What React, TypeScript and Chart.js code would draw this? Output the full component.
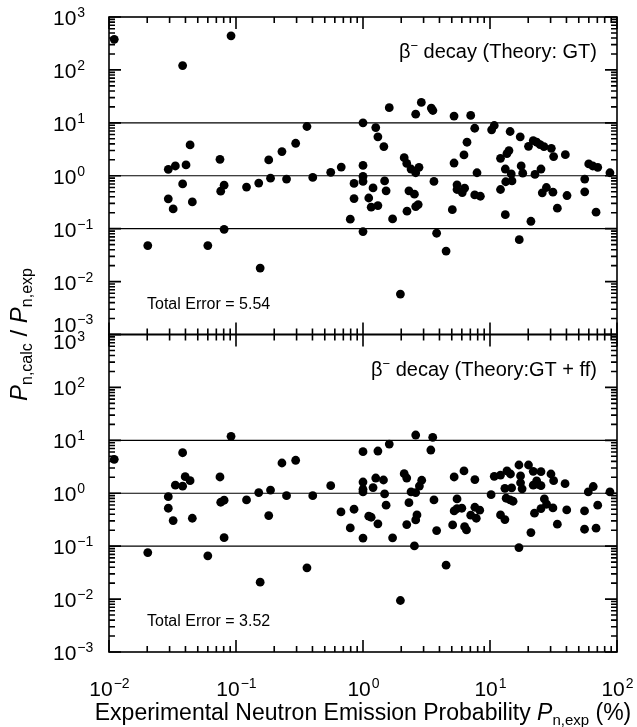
import React, { useEffect, useRef } from "react";
import { Chart, registerables } from "chart.js";
Chart.register(...registerables);

// ---- data ----
const topX = [0.011, 0.0914, 0.038, 0.0293, 0.0333, 0.0404, 0.0435, 0.038, 0.0293, 0.032, 0.0453, 0.0202, 0.06, 0.0748, 0.0758, 0.0806, 0.0806, 0.121, 0.151, 0.155, 0.181, 0.187, 0.23, 0.25, 0.295, 0.362, 0.402,
  0.557, 0.674, 0.794, 0.85, 0.85, 1.0, 1.0, 1.0, 1.0, 1.0, 1.11, 1.16, 1.2, 1.26, 1.31, 1.31, 1.46, 1.48, 1.52, 1.61, 1.71, 1.97,
  2.11, 2.21, 2.22, 2.3, 2.39, 2.54, 2.6, 2.6, 2.6, 2.72, 2.76, 2.88, 3.45, 3.55, 3.62, 3.8, 4.51, 5.05, 5.21, 5.21, 5.5, 5.5,
  6.05, 6.31, 6.24, 6.59, 7.05, 7.58, 7.9, 7.58, 8.4, 10.3, 10.8, 12.1, 12.1, 13.2, 13.2, 13.3, 13.6, 14.1, 14.4, 14.7, 14.9,
  17.0, 17.3, 17.6, 18.1, 20.1, 21.0, 21.9, 22.6, 23.3, 24.8, 25.2, 25.8, 26.6, 27.8, 30.4, 31.3, 31.7, 33.9, 39.2, 40.4,
  55.7, 55.7, 59.9, 64.4, 70.5, 68.4, 88];
const topY = [378, 441, 121, 1.32, 1.53, 1.6, 3.83, 0.7, 0.366, 0.236, 0.32, 0.048, 0.048, 2.04, 0.51, 0.665, 0.097, 0.61, 0.726, 0.018, 1.99, 0.9, 2.86, 0.865, 4.11, 8.53, 0.93,
  1.16, 1.46, 0.151, 0.715, 0.371, 10.0, 1.57, 0.97, 0.78, 0.088, 0.38, 0.255, 0.59, 8.14, 5.43, 0.273, 3.56, 0.8, 0.52, 19.3, 0.153, 0.0058,
  2.2, 1.71, 0.214, 0.52, 1.34, 0.449, 14.6, 1.14, 0.261, 0.285, 1.44, 24.3, 19.0, 17.1, 0.78, 0.082, 0.0377, 0.229, 13.4, 1.74, 0.675, 0.55,
  0.48, 0.583, 2.47, 4.3, 13.8, 7.9, 1.14, 0.435, 0.41, 7.38, 8.9, 2.13, 0.55, 0.184, 1.34, 0.77, 2.62, 2.99, 6.86, 1.08, 0.8,
  0.062, 5.43, 1.53, 1.12, 3.6, 0.138, 4.62, 1.06, 4.3, 3.88, 1.34, 0.475, 3.56, 0.6, 3.3, 0.49, 2.3, 0.244, 2.5, 0.423,
  0.865, 0.497, 1.67, 1.53, 1.44, 0.205, 1.14];

const botX = [0.011, 0.0202, 0.0293, 0.0293, 0.032, 0.0333, 0.038, 0.038, 0.0398, 0.0435, 0.0453, 0.06, 0.0748, 0.0758, 0.0806, 0.0806, 0.0914, 0.121, 0.151, 0.155, 0.181, 0.187, 0.23, 0.25, 0.295, 0.362, 0.402,
  0.557, 0.671, 0.794, 0.85, 1.0, 1.0, 1.0, 1.0, 1.0, 1.11, 1.16, 1.2, 1.26, 1.31, 1.31, 1.45, 1.48, 1.52, 1.61, 1.71, 1.97,
  2.11, 2.21, 2.21, 2.3, 2.39, 2.54, 2.6, 2.6, 2.6, 2.66, 2.78, 2.9, 3.42, 3.54, 3.62, 3.8, 4.51, 5.08, 5.22, 5.5, 5.22, 5.5,
  6.0, 6.24, 6.31, 6.53, 7.05, 7.6, 7.6, 7.8, 8.3, 10.2, 10.8, 12.1, 12.1, 13.1, 13.1, 13.4, 13.6, 14.4, 14.5, 14.8, 15.2,
  16.9, 16.9, 17.4, 17.4, 17.9, 20.1, 21.0, 21.9, 22.4, 21.9, 23.3, 23.8, 25.2, 25.2, 25.2, 26.8, 27.9, 30.2, 31.3, 31.7, 33.9,
  39, 40.2, 55.5, 55.5, 59.4, 65, 68.4, 70.5, 88];
const botY = [4.38, 0.0757, 0.863, 0.521, 0.304, 1.42, 1.36, 5.83, 2.06, 1.73, 0.337, 0.0656, 2.03, 0.676, 0.738, 0.145, 11.9, 0.748, 1.03, 0.0209, 0.378, 1.15, 3.73, 0.9, 4.2, 0.039, 0.9,
  1.39, 0.444, 0.221, 0.499, 6.1, 1.63, 1.19, 1.06, 0.142, 0.368, 0.352, 1.28, 1.94, 6.28, 0.264, 1.78, 0.97, 0.594, 8.51, 0.144, 0.0094,
  2.34, 1.94, 0.256, 0.665, 1.06, 0.101, 12.6, 1.03, 0.313, 0.39, 1.37, 1.76, 6.56, 11.4, 0.748, 0.197, 0.0438, 0.252, 2.03, 0.78, 0.463, 0.513,
  0.521, 2.64, 0.234, 0.203, 0.385, 1.81, 0.544, 0.337, 0.478, 0.94, 2.09, 2.21, 0.39, 1.24, 0.318, 0.805, 2.64, 0.748, 2.31, 1.26, 0.706,
  3.42, 0.094, 2.12, 1.58, 1.21, 3.42, 0.181, 2.6, 0.42, 1.42, 1.71, 1.48, 2.56, 1.39, 0.513, 0.78, 0.62, 2.31, 0.528, 1.73, 0.26,
  1.52, 0.484, 0.463, 0.209, 1.06, 1.34, 0.219, 0.594, 1.06];

const refLevels = [0.1, 1, 10];
const xMin = 0.01, xMax = 100;
const yMin = 0.001, yMax = 1000;
const xExponents = [-2, -1, 0, 1, 2];
const yExponents = [-3, -2, -1, 0, 1, 2, 3];
const minorSteps = [2, 3, 4, 5, 6, 7, 8, 9];
const topTitle = ["β", "−", " decay (Theory: GT)"];
const botTitle = ["β", "−", " decay (Theory:GT + ff)"];
const topError = "Total Error = 5.54";
const botError = "Total Error = 3.52";
const xTitleMain = "Experimental Neutron Emission Probability ";
const xTitleSub = "n,exp";
const yTitleSubA = "n,calc";
const yTitleSubB = "n,exp";

const FONT = '"Liberation Sans", Arial, Helvetica, sans-serif';

function pairs(xs: number[], ys: number[]) {
  return xs.map((x, i) => ({ x, y: ys[i] }));
}

function refSets(axis: string) {
  return refLevels.map((lv) => ({
    type: "line" as const,
    data: [{ x: xMin, y: lv }, { x: xMax, y: lv }],
    yAxisID: axis,
    borderColor: "#000",
    borderWidth: 1.2,
    pointRadius: 0,
    fill: false,
  }));
}

function tickValues(exps: number[], maxV: number) {
  const out: { v: number; major: boolean }[] = [];
  for (const d of exps) {
    const base = Math.pow(10, d);
    out.push({ v: base, major: true });
    for (const k of minorSteps) {
      const v = k * base;
      if (v < maxV * 0.9999) out.push({ v, major: false });
    }
  }
  return out;
}

function drawPow(ctx: CanvasRenderingContext2D, exp: number, x: number, baseline: number, align: "left" | "center", big: number, small: number) {
  const expStr = exp < 0 ? "−" + Math.abs(exp) : String(exp);
  ctx.font = `${big}px ${FONT}`;
  const w1 = ctx.measureText("10").width;
  ctx.font = `${small}px ${FONT}`;
  const w2 = ctx.measureText(expStr).width;
  const x0 = align === "left" ? x : x - (w1 + w2) / 2;
  ctx.textAlign = "left";
  ctx.textBaseline = "alphabetic";
  ctx.font = `${big}px ${FONT}`;
  ctx.fillText("10", x0, baseline);
  ctx.font = `${small}px ${FONT}`;
  ctx.fillText(expStr, x0 + w1 + 1, baseline - 8);
}

function drawTicks(chart: any, key: string) {
  const ctx: CanvasRenderingContext2D = chart.ctx;
  const xs = chart.scales.x;
  const ys = chart.scales[key];
  const left = xs.left, right = xs.right;
  const top = ys.top, bottom = ys.bottom;
  const xt = tickValues(xExponents, xMax);
  const yt = tickValues(yExponents, yMax);
  ctx.beginPath();
  for (const t of xt) {
    const px = xs.getPixelForValue(t.v);
    const len = t.major ? 12 : 6;
    ctx.moveTo(px, top);
    ctx.lineTo(px, top + len);
    ctx.moveTo(px, bottom);
    ctx.lineTo(px, bottom - len);
  }
  for (const t of yt) {
    const py = ys.getPixelForValue(t.v);
    const len = t.major ? 12 : 6;
    ctx.moveTo(left, py);
    ctx.lineTo(left + len, py);
    ctx.moveTo(right, py);
    ctx.lineTo(right - len, py);
  }
  ctx.stroke();
}

const tickPlugin = {
  id: "innerTicks",
  afterDraw(chart: any) {
    const ctx: CanvasRenderingContext2D = chart.ctx;
    ctx.save();
    ctx.strokeStyle = "#000000";
    ctx.lineWidth = 1.6;
    drawTicks(chart, "yTop");
    ctx.strokeStyle = "#000000";
    ctx.lineWidth = 1.6;
    drawTicks(chart, "yBot");
    ctx.restore();
  },
};

const decor = {
  id: "decor",
  afterDraw(chart: any) {
    const ctx: CanvasRenderingContext2D = chart.ctx;
    const xs = chart.scales.x;
    const panels = [chart.scales.yTop, chart.scales.yBot];
    const left = xs.left, right = xs.right;
    ctx.save();
    ctx.strokeStyle = "#000";
    ctx.fillStyle = "#000";
    panels.forEach((ys: any, pi: number) => {
      const top = ys.top, bottom = ys.bottom;
      ctx.lineWidth = 1.6;
      ctx.strokeRect(left, top, right - left, bottom - top);

      for (const d of yExponents) {
        let py = ys.getPixelForValue(Math.pow(10, d));
        if (pi === 0 && d === -3) py -= 11;
        if (pi === 1 && d === 3) py += 6;
        drawPow(ctx, d, 53, py + 8, "left", 21, 14);
      }

      const parts = pi === 0 ? topTitle : botTitle;
      const baseY = top + 41;
      ctx.font = `20px ${FONT}`;
      const wa = ctx.measureText(parts[0]).width;
      const wc = ctx.measureText(parts[2]).width;
      ctx.font = `13px ${FONT}`;
      const wb = ctx.measureText(parts[1]).width;
      const xEnd = right - 20;
      let xx = xEnd - wa - wb - wc;
      ctx.textAlign = "left";
      ctx.textBaseline = "alphabetic";
      ctx.font = `20px ${FONT}`;
      ctx.fillText(parts[0], xx, baseY);
      xx += wa;
      ctx.font = `13px ${FONT}`;
      ctx.fillText(parts[1], xx, baseY - 8);
      xx += wb;
      ctx.font = `20px ${FONT}`;
      ctx.fillText(parts[2], xx, baseY);

      ctx.font = `16px ${FONT}`;
      ctx.fillText(pi === 0 ? topError : botError, left + 38, bottom - 26);
    });

    const bot = chart.scales.yBot.bottom;
    for (const d of xExponents) {
      const px = xs.getPixelForValue(Math.pow(10, d));
      drawPow(ctx, d, px, bot + 44, "center", 21, 14);
    }

    ctx.font = `23px ${FONT}`;
    const w1 = ctx.measureText(xTitleMain).width;
    ctx.font = `italic 23px ${FONT}`;
    const w2 = ctx.measureText("P").width;
    ctx.font = `15px ${FONT}`;
    const w3 = ctx.measureText(xTitleSub).width;
    ctx.font = `23px ${FONT}`;
    const w4 = ctx.measureText(" (%)").width;
    const total = w1 + w2 + w3 + w4;
    let tx = (left + right) / 2 - total / 2;
    const tb = bot + 68;
    ctx.textAlign = "left";
    ctx.font = `23px ${FONT}`;
    ctx.fillText(xTitleMain, tx, tb); tx += w1;
    ctx.font = `italic 23px ${FONT}`;
    ctx.fillText("P", tx, tb); tx += w2;
    ctx.font = `15px ${FONT}`;
    ctx.fillText(xTitleSub, tx, tb + 5); tx += w3;
    ctx.font = `23px ${FONT}`;
    ctx.fillText(" (%)", tx, tb);

    const cy = chart.scales.yTop.bottom;
    ctx.save();
    ctx.translate(27, cy);
    ctx.rotate(-Math.PI / 2);
    ctx.font = `italic 24px ${FONT}`;
    const pW = ctx.measureText("P").width;
    ctx.font = `16px ${FONT}`;
    const sA = ctx.measureText(yTitleSubA).width;
    const sB = ctx.measureText(yTitleSubB).width;
    ctx.font = `24px ${FONT}`;
    const slW = ctx.measureText(" / ").width;
    const tot = pW * 2 + sA + sB + slW;
    let yx = -tot / 2;
    ctx.font = `italic 24px ${FONT}`;
    ctx.fillText("P", yx, 0); yx += pW;
    ctx.font = `16px ${FONT}`;
    ctx.fillText(yTitleSubA, yx, 5); yx += sA;
    ctx.font = `24px ${FONT}`;
    ctx.fillText(" / ", yx, 0); yx += slW;
    ctx.font = `italic 24px ${FONT}`;
    ctx.fillText("P", yx, 0); yx += pW;
    ctx.font = `16px ${FONT}`;
    ctx.fillText(yTitleSubB, yx, 5);
    ctx.restore();

    ctx.restore();
  },
};

export default function App() {
  const ref = useRef<HTMLCanvasElement | null>(null);
  useEffect(() => {
    if (!ref.current) return;
    const hidden = {
      ticks: { display: false },
      grid: { display: false, drawTicks: false },
      border: { display: false },
    };
    const chart = new Chart(ref.current, {
      type: "scatter",
      data: {
        datasets: [
          ...refSets("yTop"),
          ...refSets("yBot"),
          { type: "scatter", data: pairs(topX, topY), yAxisID: "yTop", backgroundColor: "#000", borderWidth: 0, pointRadius: 4.4 },
          { type: "scatter", data: pairs(botX, botY), yAxisID: "yBot", backgroundColor: "#000", borderWidth: 0, pointRadius: 4.4 },
        ] as any,
      },
      options: {
        animation: false,
        responsive: false,
        events: [],
        layout: { padding: { top: 17, right: 20, left: 0, bottom: 0 } },
        plugins: { legend: { display: false }, tooltip: { enabled: false } },
        scales: {
          x: { type: "logarithmic", min: xMin, max: xMax, position: "bottom", ...hidden, afterFit: (s: any) => { s.height = 75; } },
          yBot: { type: "logarithmic", min: yMin, max: yMax, position: "left", stack: "panels", stackWeight: 1, ...hidden, afterFit: (s: any) => { s.width = 109; } },
          yTop: { type: "logarithmic", min: yMin, max: yMax, position: "left", stack: "panels", stackWeight: 1, ...hidden, afterFit: (s: any) => { s.width = 109; } },
        } as any,
      },
      plugins: [tickPlugin, decor],
    });
    return () => chart.destroy();
  }, []);
  return (
    <div style={{ position: "absolute", left: 0, top: 0, width: 637, height: 727, background: "#fff" }}>
      <canvas ref={ref} width={637} height={727} style={{ width: 637, height: 727 }} />
    </div>
  );
}
